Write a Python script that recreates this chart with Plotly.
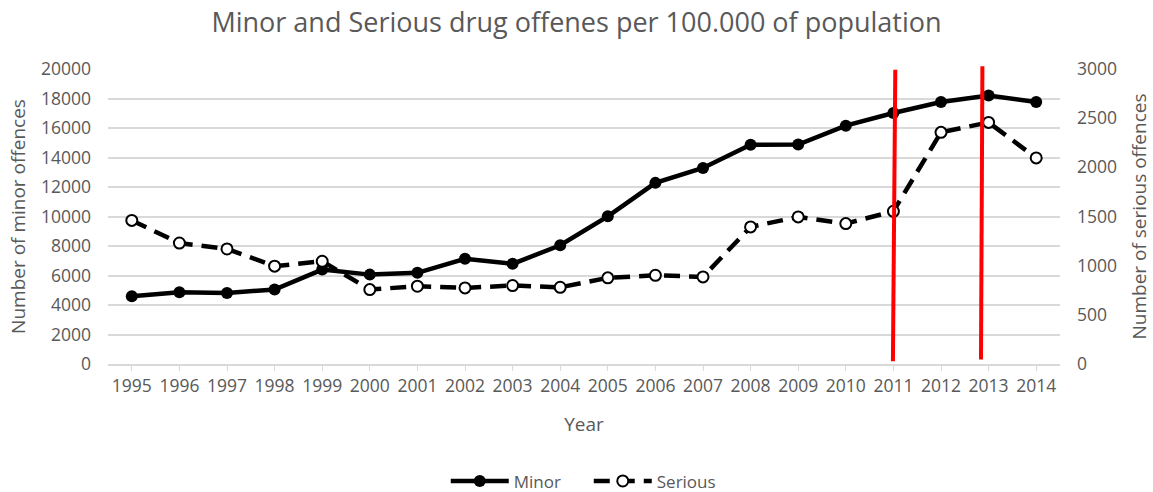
import plotly.graph_objects as go

# Offence counts per 100.000 of population, 1995-2014
years = list(range(1995, 2015))
minor = [4600, 4870, 4820, 5050, 6400, 6060, 6180, 7130, 6790, 8050,
         10010, 12280, 13290, 14870, 14880, 16160, 17020, 17760, 18210, 17760]
serious = [1460, 1230, 1170, 995, 1045, 757, 791, 774, 798, 780,
           876, 902, 886, 1394, 1496, 1428, 1553, 2356, 2457, 2096]

left_ticks = list(range(0, 20001, 2000))
right_ticks = list(range(0, 3001, 500))

# Vertical red markers (bottom x, top x) in year units
marker_lines = [(2010.99, 2011.04), (2012.84, 2012.87)]
marker_spans = [(0.0095, 0.9976), (0.015, 1.009)]

GREY = "#595959"
GRID = "#d9d9d9"
FONT = "Open Sans"

fig = go.Figure()
fig.add_trace(go.Scatter(
    x=years, y=minor, name="Minor", mode="lines+markers",
    line=dict(color="black", width=4.5),
    marker=dict(symbol="circle", size=12, color="black"),
    yaxis="y",
))
fig.add_trace(go.Scatter(
    x=years, y=serious, name="Serious", mode="lines+markers",
    line=dict(color="black", width=4.5, dash="16px,9px"),
    marker=dict(symbol="circle", size=11, color="white",
                line=dict(color="black", width=2)),
    yaxis="y2",
))

for (xb, xt), (yb, yt) in zip(marker_lines, marker_spans):
    fig.add_shape(type="line", xref="x", yref="paper",
                  x0=xb, x1=xt, y0=yb, y1=yt,
                  line=dict(color="#ff0000", width=4), layer="above")

fig.update_layout(
    width=1153, height=492,
    margin=dict(l=108, r=93, t=69, b=127.5, autoexpand=False),
    paper_bgcolor="white", plot_bgcolor="white",
    font=dict(family=FONT, color=GREY, size=17),
    title=dict(text="Minor and Serious drug offenes per 100.000 of population",
               x=0.5, xanchor="center", y=0.955, yanchor="middle",
               font=dict(size=27, color=GREY, family=FONT)),
    xaxis=dict(
        range=[1994.5, 2014.5], tickvals=years, ticktext=[str(y) for y in years],
        showgrid=False, zeroline=False,
        showline=True, linecolor=GRID, linewidth=1.5,
        ticks="outside", ticklen=5, tickcolor=GRID,
        tickfont=dict(size=17.5, color=GREY),
        title=dict(text="Year", font=dict(size=19, color=GREY), standoff=22),
    ),
    yaxis=dict(
        range=[0, 20000], tickvals=left_ticks, tickformat="d",
        showgrid=True, gridcolor=GRID, gridwidth=1.5, zeroline=False,
        tickfont=dict(size=17.5, color=GREY), ticklabelstandoff=16,
        title=dict(text="Number of minor offences", font=dict(size=19, color=GREY),
                   standoff=10),
    ),
    yaxis2=dict(
        range=[0, 3000], tickvals=right_ticks, tickformat="d",
        overlaying="y", side="right",
        showgrid=False, zeroline=False,
        tickfont=dict(size=17.5, color=GREY), ticklabelstandoff=16,
        title=dict(text="Number of serious offences", font=dict(size=19, color=GREY),
                   standoff=16),
    ),
    legend=dict(orientation="h", x=0.505, xanchor="center", y=-0.398, yanchor="middle",
                font=dict(size=17, color=GREY), itemwidth=58,
                entrywidth=70, entrywidthmode="pixels",
                bgcolor="rgba(0,0,0,0)"),
    showlegend=True,
)

fig.write_html("out.html")
